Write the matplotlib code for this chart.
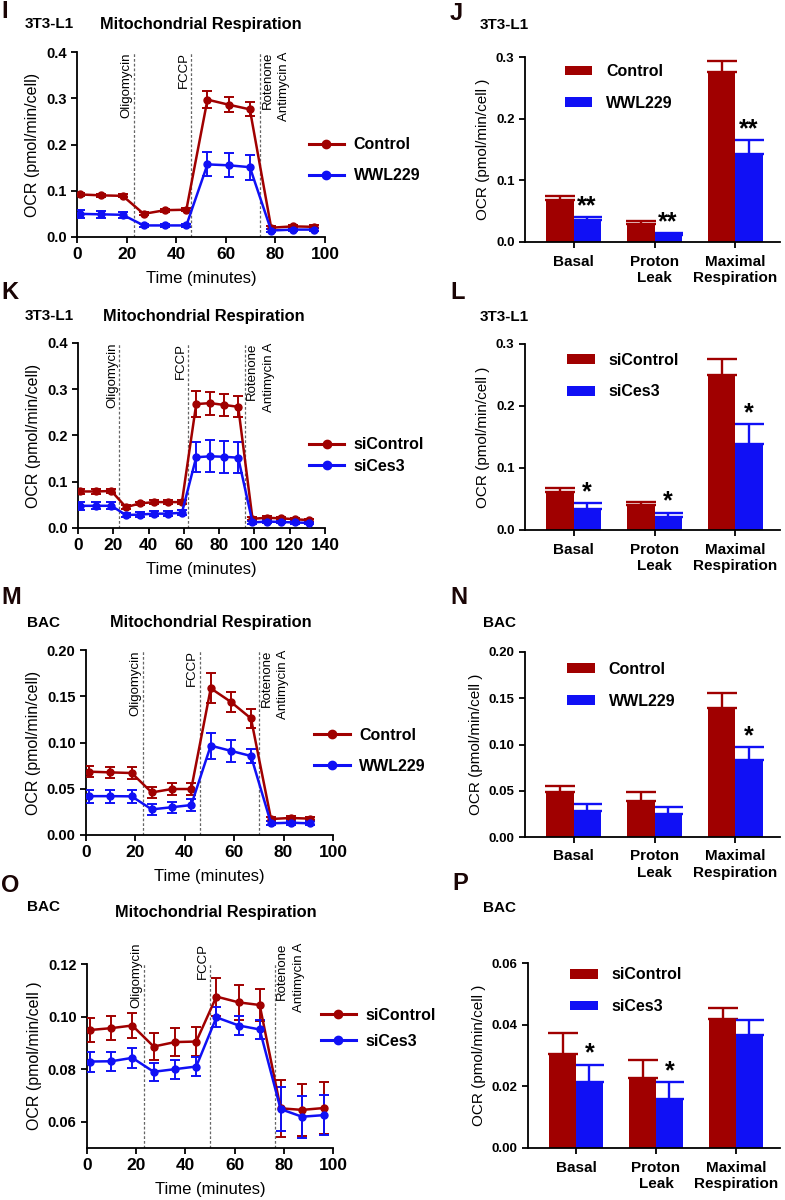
import matplotlib
matplotlib.use('Agg')
import matplotlib.pyplot as plt
from matplotlib.lines import Line2D
import numpy as np

plt.rcParams['font.family'] = ['Liberation Sans', 'DejaVu Sans']
plt.rcParams['font.weight'] = 'bold'
plt.rcParams['axes.linewidth'] = 1.3

RED = '#A00000'
BLUE = '#1010F5'
FIG_W, FIG_H = 785, 1200

# ---- panel I : 3T3-L1, Control vs WWL229 ----
t_I = [1.3, 9.8, 18.4, 26.9, 35.5, 44.1, 52.6, 61.2, 69.7, 78.3, 86.9, 95.4]
ctrl_I = [0.092, 0.090, 0.089, 0.050, 0.058, 0.059, 0.297, 0.286, 0.276, 0.020, 0.023, 0.022]
ctrl_I_err = [0.004, 0.003, 0.003, 0.003, 0.003, 0.003, 0.019, 0.016, 0.015, 0.003, 0.003, 0.003]
wwl_I = [0.050, 0.049, 0.048, 0.025, 0.025, 0.025, 0.157, 0.155, 0.151, 0.014, 0.016, 0.016]
wwl_I_err = [0.008, 0.007, 0.007, 0.003, 0.003, 0.003, 0.026, 0.026, 0.027, 0.003, 0.003, 0.003]

# ---- panel K : 3T3-L1, siControl vs siCes3 ----
t_K = [1.3, 10.2, 18.9, 27.2, 34.9, 43.0, 50.9, 58.9, 67.0, 74.9, 83.0, 90.8,
       98.9, 107.0, 115.0, 122.8, 130.8]
ctrl_K = [0.079, 0.079, 0.080, 0.045, 0.053, 0.056, 0.056, 0.056, 0.268, 0.270, 0.266, 0.262,
          0.020, 0.022, 0.021, 0.019, 0.017]
ctrl_K_err = [0.006, 0.005, 0.005, 0.004, 0.004, 0.004, 0.004, 0.005, 0.028, 0.025, 0.024, 0.023,
              0.003, 0.003, 0.003, 0.003, 0.003]
ces_K = [0.048, 0.048, 0.048, 0.028, 0.029, 0.031, 0.031, 0.033, 0.153, 0.155, 0.154, 0.152,
         0.012, 0.014, 0.013, 0.012, 0.011]
ces_K_err = [0.009, 0.008, 0.008, 0.005, 0.005, 0.005, 0.005, 0.005, 0.032, 0.035, 0.035, 0.033,
             0.003, 0.003, 0.003, 0.003, 0.003]

# ---- panel M : BAC, Control vs WWL229 ----
t_M = [1.1, 9.9, 18.5, 26.6, 34.7, 42.6, 50.5, 58.6, 66.8, 74.9, 82.8, 90.8]
ctrl_M = [0.0685, 0.0677, 0.067, 0.046, 0.0497, 0.0497, 0.1586, 0.144, 0.126, 0.0173, 0.0184, 0.0177]
ctrl_M_err = [0.006, 0.006, 0.006, 0.006, 0.006, 0.006, 0.016, 0.011, 0.010, 0.002, 0.002, 0.002]
wwl_M = [0.042, 0.042, 0.0418, 0.0277, 0.030, 0.0324, 0.0966, 0.091, 0.0854, 0.0126, 0.0133, 0.0126]
wwl_M_err = [0.007, 0.007, 0.007, 0.006, 0.006, 0.006, 0.014, 0.012, 0.008, 0.002, 0.002, 0.002]

# ---- panel O : BAC, siControl vs siCes3 ----
t_O = [1.4, 9.9, 18.4, 27.1, 35.8, 44.4, 52.6, 61.7, 70.2, 78.7, 87.4, 96.2]
ctrl_O = [0.0949, 0.0956, 0.0966, 0.0886, 0.0903, 0.0905, 0.1076, 0.1054, 0.1044, 0.0651, 0.0645, 0.0652]
ctrl_O_err = [0.0047, 0.0046, 0.0048, 0.005, 0.0053, 0.0054, 0.0072, 0.0066, 0.006, 0.0108, 0.010, 0.0098]
ces_O = [0.0829, 0.0830, 0.0843, 0.0790, 0.0800, 0.0810, 0.0997, 0.0966, 0.0951, 0.0648, 0.0619, 0.0625]
ces_O_err = [0.0038, 0.0036, 0.0039, 0.0034, 0.0036, 0.0036, 0.0038, 0.0035, 0.0035, 0.0085, 0.008, 0.0076]

# injection times (Oligomycin, FCCP, Rotenone/Antimycin A)
inj_I = [23, 46, 73.8]
inj_K = [23.4, 62.6, 94.5]
inj_M = [23, 46, 70.1]
inj_O = [23.2, 50.1, 76.3]

# ---- bar panels ----
bar_cats = ['Basal', 'Proton\nLeak', 'Maximal\nRespiration']

ctrl_J = [0.0686, 0.0297, 0.275]
ctrl_J_err = [0.006, 0.004, 0.019]
wwl_J = [0.035, 0.0114, 0.143]
wwl_J_err = [0.0055, 0.003, 0.022]
stars_J = ['**', '**', '**']

ctrl_L = [0.061, 0.040, 0.250]
ctrl_L_err = [0.0075, 0.0053, 0.026]
ces_L = [0.0345, 0.021, 0.138]
ces_L_err = [0.009, 0.007, 0.033]
stars_L = ['*', '*', '*']

ctrl_N = [0.0486, 0.0389, 0.140]
ctrl_N_err = [0.007, 0.010, 0.016]
wwl_N = [0.0281, 0.0245, 0.0836]
wwl_N_err = [0.0072, 0.0083, 0.0133]
stars_N = ['', '', '*']

ctrl_P = [0.0306, 0.0227, 0.0418]
ctrl_P_err = [0.0067, 0.006, 0.0035]
ces_P = [0.0213, 0.0159, 0.0365]
ces_P_err = [0.0057, 0.0054, 0.0049]
stars_P = ['*', '*', '']

fig = plt.figure(figsize=(FIG_W / 100, FIG_H / 100), dpi=100)


def px_axes(left, top, right, bottom):
    return fig.add_axes([left / FIG_W, 1 - bottom / FIG_H,
                         (right - left) / FIG_W, (bottom - top) / FIG_H])


def ftext(x, y, s, **kw):
    fig.text(x / FIG_W, 1 - y / FIG_H, s, va='center', **kw)


def style_axes(ax, xsize, ysize):
    for sp in ['top', 'right']:
        ax.spines[sp].set_visible(False)
    ax.tick_params(axis='both', direction='out', length=4, width=1.3)
    ax.tick_params(axis='y', labelsize=ysize)
    ax.tick_params(axis='x', labelsize=xsize)


def line_panel(ax, t, a, a_err, b, b_err, labels, inj, xlim, ylim, yticks, yfmt,
               ylabel, leg_xy, leg_space, text_top=1.0):
    eb = dict(marker='o', ms=5, lw=1.8, capsize=3.5, elinewidth=1.4, capthick=1.4, zorder=3)
    ax.errorbar(t, a, yerr=a_err, color=RED, **eb)
    ax.errorbar(t, b, yerr=b_err, color=BLUE, **eb)
    for x in inj:
        ax.axvline(x, color='#666666', ls=(0, (2.2, 1.6)), lw=0.9, zorder=1)
    tk = dict(rotation=90, va='top', fontsize=9.5, fontweight='normal',
              xycoords=('data', 'axes fraction'), textcoords='offset points',
              annotation_clip=False)
    ax.annotate('Oligomycin', xy=(inj[0], text_top), xytext=(-1, 0), ha='right', **tk)
    ax.annotate('FCCP', xy=(inj[1], text_top), xytext=(-1, 0), ha='right', **tk)
    ax.annotate('Rotenone\nAntimycin A', xy=(inj[2], text_top), xytext=(1, 0), ha='left',
                multialignment='right', linespacing=1.5, **tk)
    ax.set_xlim(*xlim)
    ax.set_xticks(np.arange(xlim[0], xlim[1] + 1, 20))
    ax.set_ylim(*ylim)
    ax.set_yticks(yticks)
    ax.set_yticklabels([yfmt % v for v in yticks])
    ax.set_xlabel('Time (minutes)', fontsize=12, labelpad=6.5)
    ax.set_ylabel(ylabel, fontsize=11.5, labelpad=4)
    style_axes(ax, 12.5, 10.5)
    handles = [Line2D([], [], color=c, marker='o', ms=6, lw=2.2) for c in (RED, BLUE)]
    ax.legend(handles, labels, loc='center left', bbox_to_anchor=leg_xy, frameon=False,
              fontsize=11.5, handlelength=2.2, handletextpad=0.6, labelspacing=leg_space,
              borderpad=0, borderaxespad=0)


def bar_panel(ax, a, a_err, b, b_err, labels, stars, ylim, yticks, yfmt, leg_xy):
    x = np.arange(len(bar_cats))
    w = 0.335
    ax.bar(x - w, a, w, align='edge', color=RED, label=labels[0], zorder=2)
    ax.bar(x, b, w, align='edge', color=BLUE, label=labels[1], zorder=2)
    ax.errorbar(x - w / 2, a, yerr=[np.zeros(len(a)), a_err], fmt='none', ecolor=RED,
                elinewidth=1.7, capsize=11, capthick=1.7, zorder=1)
    ax.errorbar(x + w / 2, b, yerr=[np.zeros(len(b)), b_err], fmt='none', ecolor=BLUE,
                elinewidth=1.7, capsize=11, capthick=1.7, zorder=1)
    for i, s in enumerate(stars):
        if s:
            ax.annotate(s, xy=(x[i] + w / 2, b[i] + b_err[i]), xytext=(0, 3),
                        textcoords='offset points', ha='center', va='baseline',
                        fontsize=18, fontweight='bold')
    ax.set_xlim(-0.6, 2.55)
    ax.set_xticks(x)
    ax.set_xticklabels(bar_cats, linespacing=1.25)
    ax.set_ylim(*ylim)
    ax.set_yticks(yticks)
    ax.set_yticklabels([yfmt % v for v in yticks])
    ax.set_ylabel('OCR (pmol/min/cell )', fontsize=11, labelpad=4)
    style_axes(ax, 11, 9.5)
    ax.tick_params(axis='x', pad=5)
    ax.legend(loc='center left', bbox_to_anchor=leg_xy, frameon=False, fontsize=11.5,
              handlelength=1.75, handleheight=0.55, handletextpad=0.85, labelspacing=1.05,
              borderpad=0, borderaxespad=0)


# line charts
ax_I = px_axes(77, 52, 325, 237)
line_panel(ax_I, t_I, ctrl_I, ctrl_I_err, wwl_I, wwl_I_err, ['Control', 'WWL229'], inj_I,
           (0, 100), (0, 0.4), [0, 0.1, 0.2, 0.3, 0.4], '%.1f', 'OCR (pmol/min/cell)',
           (0.935, 0.415), 1.0)

ax_K = px_axes(78, 343, 325, 528)
line_panel(ax_K, t_K, ctrl_K, ctrl_K_err, ces_K, ces_K_err, ['siControl', 'siCes3'], inj_K,
           (0, 140), (0, 0.4), [0, 0.1, 0.2, 0.3, 0.4], '%.1f', 'OCR (pmol/min/cell)',
           (0.935, 0.392), 0.4)

ax_M = px_axes(86, 650, 333, 835)
line_panel(ax_M, t_M, ctrl_M, ctrl_M_err, wwl_M, wwl_M_err, ['Control', 'WWL229'], inj_M,
           (0, 100), (0, 0.2), [0, 0.05, 0.10, 0.15, 0.20], '%.2f', 'OCR (pmol/min/cell)',
           (0.925, 0.454), 1.0)

ax_O = px_axes(87, 964, 333, 1148)
line_panel(ax_O, t_O, ctrl_O, ctrl_O_err, ces_O, ces_O_err, ['siControl', 'siCes3'], inj_O,
           (0, 100), (0.05, 0.12), [0.06, 0.08, 0.10, 0.12], '%.2f', 'OCR (pmol/min/cell )',
           (0.95, 0.65), 0.7, text_top=1.115)

# bar charts
ax_J = px_axes(525, 57, 780, 242)
bar_panel(ax_J, ctrl_J, ctrl_J_err, wwl_J, wwl_J_err, ['Control', 'WWL229'], stars_J,
          (0, 0.3), [0, 0.1, 0.2, 0.3], '%.1f', (0.155, 0.835))

ax_L = px_axes(525, 344, 780, 530)
bar_panel(ax_L, ctrl_L, ctrl_L_err, ces_L, ces_L_err, ['siControl', 'siCes3'], stars_L,
          (0, 0.3), [0, 0.1, 0.2, 0.3], '%.1f', (0.165, 0.828))

ax_N = px_axes(525, 652, 780, 837)
bar_panel(ax_N, ctrl_N, ctrl_N_err, wwl_N, wwl_N_err, ['Control', 'WWL229'], stars_N,
          (0, 0.2), [0, 0.05, 0.10, 0.15, 0.20], '%.2f', (0.165, 0.82))

ax_P = px_axes(528, 963, 780, 1148)
bar_panel(ax_P, ctrl_P, ctrl_P_err, ces_P, ces_P_err, ['siControl', 'siCes3'], stars_P,
          (0, 0.06), [0, 0.02, 0.04, 0.06], '%.2f', (0.167, 0.85))

# panel letters and titles
LET = dict(fontsize=17, fontweight='bold', color='#1a0505', ha='left')
SUB = dict(fontsize=11, fontweight='bold', ha='left')
TTL = dict(fontsize=11.8, fontweight='bold', ha='left')

ftext(1, 12, 'I', **LET)
ftext(25, 24, '3T3-L1', **SUB)
ftext(100, 24, 'Mitochondrial Respiration', **TTL)

ftext(1, 292, 'K', **LET)
ftext(25, 316, '3T3-L1', **SUB)
ftext(103, 316, 'Mitochondrial Respiration', **TTL)

ftext(1, 598, 'M', **LET)
ftext(27, 623, 'BAC', **SUB)
ftext(110, 623, 'Mitochondrial Respiration', **TTL)

ftext(1, 885, 'O', **LET)
ftext(27, 907, 'BAC', **SUB)
ftext(115, 913, 'Mitochondrial Respiration', **TTL)

ftext(450, 14, 'J', **LET)
ftext(480, 25, '3T3-L1', **SUB)

ftext(450, 292, 'L', **LET)
ftext(480, 317, '3T3-L1', **SUB)

ftext(450, 598, 'N', **LET)
ftext(483, 623, 'BAC', **SUB)

ftext(452, 884, 'P', **LET)
ftext(483, 908, 'BAC', **SUB)

fig.savefig('out.png', dpi=100, facecolor='white')
